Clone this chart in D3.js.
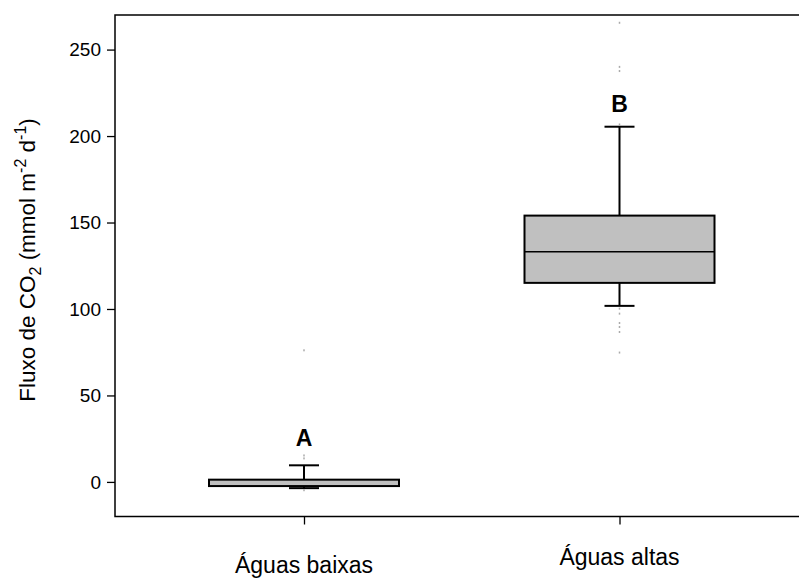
<!DOCTYPE html>
<html>
<head>
<meta charset="utf-8">
<script src="https://cdn.jsdelivr.net/npm/d3@7"></script>
<style>
  html, body { margin: 0; padding: 0; background: #fff; }
  svg { display: block; font-family: Arial, "Liberation Sans", sans-serif; }
</style>
</head>
<body>
<svg id="chart" width="799" height="578"></svg>
<script>
// Categories and box-plot statistics
const categories = ["Águas baixas", "Águas altas"];
const q1 = [-2.4, 115.1];
const median = [-0.5, 133.1];
const q3 = [1.3, 154.0];
const whiskerLow = [-3.6, 101.8];
const whiskerHigh = [9.6, 205.4];
const outliersLow = [76.1, 15.3, 13.6, -4.8];
const outliersHigh = [265.5, 240.0, 237.6, 206.7, 100.2, 97.3, 91.9, 89.6, 86.7, 74.8];
const groupLetters = ["A", "B"];
const letterValues = [20.5, 214];
const yTicks = [0, 50, 100, 150, 200, 250];

const svg = d3.select("#chart");
const plotLeft = 115, plotTop = 15, plotBottom = 516.5, plotRight = 812;

const y = d3.scaleLinear().domain([-20, 270]).range([plotBottom, plotTop]);
const x = d3.scalePoint().domain(categories).range([304, 619.5]);
const boxW = 190, capW = 30;

// plot frame (left, top, bottom; right side runs past the canvas)
svg.append("rect")
  .attr("x", plotLeft).attr("y", plotTop)
  .attr("width", plotRight - plotLeft).attr("height", plotBottom - plotTop)
  .attr("fill", "none").attr("stroke", "#000").attr("stroke-width", 1.5);

// y axis
const yAxis = svg.append("g")
  .attr("transform", `translate(${plotLeft},0)`)
  .call(d3.axisLeft(y).tickValues(yTicks).tickSize(8).tickPadding(6));
yAxis.select(".domain").remove();
yAxis.selectAll("line").attr("stroke", "#000").attr("stroke-width", 1.3);
yAxis.selectAll("text").attr("font-size", 19).attr("fill", "#000")
  .attr("font-family", "Arial, 'Liberation Sans', sans-serif");

// x axis ticks
const xAxis = svg.append("g")
  .attr("transform", `translate(0,${plotBottom})`)
  .call(d3.axisBottom(x).tickSize(8).tickFormat(""));
xAxis.select(".domain").remove();
xAxis.selectAll("line").attr("stroke", "#000").attr("stroke-width", 1.3);

// category labels
const labelBase = [573, 565];
svg.selectAll("text.cat").data(categories).join("text")
  .attr("class", "cat")
  .attr("x", d => x(d)).attr("y", (d, i) => labelBase[i])
  .attr("text-anchor", "middle").attr("font-size", 23).attr("fill", "#000")
  .text(d => d);

// y axis title
const title = svg.append("text")
  .attr("transform", `translate(35,260) rotate(-90)`)
  .attr("text-anchor", "middle").attr("font-size", 22.5).attr("fill", "#000");
title.append("tspan").text("Fluxo de CO");
title.append("tspan").attr("font-size", 16).attr("dy", 6).text("2");
title.append("tspan").attr("dy", -6).text(" (mmol m");
title.append("tspan").attr("font-size", 16).attr("dy", -9).text("-2");
title.append("tspan").attr("dy", 9).text(" d");
title.append("tspan").attr("font-size", 16).attr("dy", -9).text("-1");
title.append("tspan").attr("dy", 9).text(")");

// boxes
const groups = categories.map((c, i) => ({
  c, q1: q1[i], med: median[i], q3: q3[i], lo: whiskerLow[i], hi: whiskerHigh[i],
  out: i === 0 ? outliersLow : outliersHigh
}));

const g = svg.selectAll("g.box").data(groups).join("g").attr("class", "box");

// whiskers
g.append("line")
  .attr("x1", d => x(d.c)).attr("x2", d => x(d.c))
  .attr("y1", d => y(d.q3)).attr("y2", d => y(d.hi))
  .attr("stroke", "#000").attr("stroke-width", 2);
g.append("line")
  .attr("x1", d => x(d.c)).attr("x2", d => x(d.c))
  .attr("y1", d => y(d.q1)).attr("y2", d => y(d.lo))
  .attr("stroke", "#000").attr("stroke-width", 2);
g.append("line")
  .attr("x1", d => x(d.c) - capW / 2).attr("x2", d => x(d.c) + capW / 2)
  .attr("y1", d => y(d.hi)).attr("y2", d => y(d.hi))
  .attr("stroke", "#000").attr("stroke-width", 2);
g.append("line")
  .attr("x1", d => x(d.c) - capW / 2).attr("x2", d => x(d.c) + capW / 2)
  .attr("y1", d => y(d.lo)).attr("y2", d => y(d.lo))
  .attr("stroke", "#000").attr("stroke-width", 2);

// box body
g.append("rect")
  .attr("x", d => x(d.c) - boxW / 2).attr("width", boxW)
  .attr("y", d => y(d.q3)).attr("height", d => y(d.q1) - y(d.q3))
  .attr("fill", "#c0c0c0").attr("stroke", "#000").attr("stroke-width", 2);

// median
g.append("line")
  .attr("x1", d => x(d.c) - boxW / 2).attr("x2", d => x(d.c) + boxW / 2)
  .attr("y1", d => y(d.med)).attr("y2", d => y(d.med))
  .attr("stroke", "#000").attr("stroke-width", 1.3)
  .attr("stroke-opacity", (d, i) => i === 0 ? 0 : 1);

// outliers as small grey points
g.selectAll("rect.out").data(d => d.out.map(v => ({ c: d.c, v }))).join("rect")
  .attr("class", "out")
  .attr("x", d => x(d.c) - 0.75).attr("width", 1.5)
  .attr("y", d => y(d.v) - 1).attr("height", 2)
  .attr("fill", "#aaa");

// significance letters
svg.selectAll("text.letter").data(groupLetters).join("text")
  .attr("class", "letter")
  .attr("x", (d, i) => x(categories[i])).attr("y", (d, i) => y(letterValues[i]))
  .attr("text-anchor", "middle").attr("font-size", 23).attr("font-weight", "bold")
  .attr("fill", "#000").text(d => d);
</script>
</body>
</html>
